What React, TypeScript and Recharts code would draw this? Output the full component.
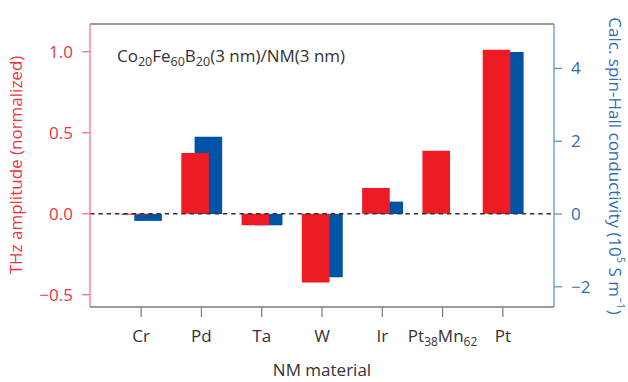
import React from 'react';
import { BarChart, Bar, XAxis, YAxis, ReferenceLine } from 'recharts';

const categories = ['Cr', 'Pd', 'Ta', 'W', 'Ir', 'Pt38Mn62', 'Pt'];
const thzAmplitude = [-0.006, 0.375, -0.072, -0.424, 0.159, 0.389, 1.012];
const spinHallConductivity: (number | null)[] = [-0.19, 2.12, -0.31, -1.74, 0.34, null, 4.45];
const leftTicks = [-0.5, 0, 0.5, 1.0];
const rightTicks = [-2, 0, 2, 4];
const leftDomain = [-0.576, 1.171];
const rightDomain = [-2.555, 5.22];

const data = categories.map((name, i) => ({
  name,
  thz: thzAmplitude[i],
  shc: spinHallConductivity[i],
}));

const RED = '#ED1C24';
const RED_TEXT = '#EF3441';
const RED_AXIS = '#F27884';
const BLUE = '#0054A6';
const BLUE_TEXT = '#2F6DB5';
const BLUE_AXIS = '#5F93D6';
const GRAY = '#7A7A7A';
const TEXT = '#333333';
const FONT = '"Open Sans", "Noto Sans", sans-serif';

const minus = (s: string) => s.replace('-', '\u2212');

function chemSpans(str: string, subSize: number, shift: number) {
  const parts = str.match(/[A-Za-z]+|\d+/g) || [];
  let sub = false;
  return parts.map((p, i) => {
    const isNum = /^\d+$/.test(p);
    let dy: number | undefined = undefined;
    if (isNum && !sub) { dy = shift; sub = true; }
    else if (!isNum && sub) { dy = -shift; sub = false; }
    return (
      <tspan key={i} dy={dy} fontSize={isNum ? subSize : undefined}>{p}</tspan>
    );
  });
}

const XTick = (props: any) => {
  const { x, y, payload } = props;
  return (
    <text x={x} y={y + 23} textAnchor="middle" fill={TEXT} fontSize={17} fontFamily={FONT}>
      {chemSpans(String(payload.value), 12, 4)}
    </text>
  );
};

const TitleLabel = () => (
  <text x={117} y={62} fill={TEXT} fontSize={17} fontFamily={FONT}>
    <tspan>Co</tspan>
    <tspan dy={4} fontSize={12.5}>20</tspan>
    <tspan dy={-4}>Fe</tspan>
    <tspan dy={4} fontSize={12.5}>60</tspan>
    <tspan dy={-4}>B</tspan>
    <tspan dy={4} fontSize={12.5}>20</tspan>
    <tspan dy={-4}>(3 nm)/NM(3 nm)</tspan>
  </text>
);

const XLabel = () => (
  <text x={322} y={376} textAnchor="middle" fill={TEXT} fontSize={17} fontFamily={FONT}>
    NM material
  </text>
);

const LeftLabel = () => (
  <text
    transform="translate(15,165) rotate(-90)"
    textAnchor="middle"
    dominantBaseline="central"
    fill={RED_TEXT}
    fontSize={17}
    fontFamily={FONT}
  >
    THz amplitude (normalized)
  </text>
);

const RightLabel = () => (
  <text
    transform="translate(616,166) rotate(90)"
    textAnchor="middle"
    dominantBaseline="central"
    fill={BLUE_TEXT}
    fontSize={17}
    fontFamily={FONT}
  >
    <tspan>Calc. spin-Hall conductivity (10</tspan>
    <tspan dy={-6} fontSize={11}>5</tspan>
    <tspan dy={6}> S m</tspan>
    <tspan dy={-6} fontSize={11}>{'\u22121'}</tspan>
    <tspan dy={6}>)</tspan>
  </text>
);

export default function App() {
  return (
    <div style={{ position: 'absolute', left: 0, top: 0, background: '#fff' }}>
      <BarChart
        width={628}
        height={382}
        data={data}
        margin={{ top: 24, right: 0, bottom: 0, left: 0 }}
      >
        <XAxis
          xAxisId="main"
          dataKey="name"
          padding={{ left: 21, right: 21 }}
          height={75}
          tickSize={10}
          tick={<XTick />}
          axisLine={{ stroke: GRAY, strokeWidth: 1.4 }}
          tickLine={{ stroke: GRAY, strokeWidth: 1.2 }}
          interval={0}
          label={<XLabel />}
        />
        <XAxis xAxisId="red" dataKey="name" hide height={0} padding={{ left: 15, right: 27 }} />
        <XAxis xAxisId="blue" dataKey="name" hide height={0} padding={{ left: 28.3, right: 13.7 }} />
        <YAxis
          yAxisId="l"
          width={90}
          domain={leftDomain}
          ticks={leftTicks}
          allowDataOverflow
          tickFormatter={(v: number) => minus(v.toFixed(1))}
          tickSize={8}
          tickMargin={9}
          tick={{ fill: RED_TEXT, fontSize: 17, fontFamily: FONT }}
          axisLine={{ stroke: RED_AXIS, strokeWidth: 1.3 }}
          tickLine={{ stroke: RED_AXIS, strokeWidth: 1.3 }}
          label={<LeftLabel />}
        />
        <YAxis
          yAxisId="r"
          orientation="right"
          width={74}
          domain={rightDomain}
          ticks={rightTicks}
          allowDataOverflow
          tickFormatter={(v: number) => minus(String(v))}
          tickSize={8}
          tickMargin={9}
          tick={{ fill: BLUE_TEXT, fontSize: 17, fontFamily: FONT }}
          axisLine={{ stroke: BLUE_AXIS, strokeWidth: 1.3 }}
          tickLine={{ stroke: BLUE_AXIS, strokeWidth: 1.3 }}
          label={<RightLabel />}
        />
        <ReferenceLine
          yAxisId="l"
          xAxisId="main"
          y={leftDomain[1]}
          stroke={GRAY}
          strokeWidth={1.4}
          ifOverflow="visible"
          label={<TitleLabel />}
        />
        <Bar
          xAxisId="blue"
          yAxisId="r"
          dataKey="shc"
          fill={BLUE}
          barSize={27.6}
          isAnimationActive={false}
        />
        <Bar
          xAxisId="red"
          yAxisId="l"
          dataKey="thz"
          fill={RED}
          barSize={27.6}
          isAnimationActive={false}
        />
        <ReferenceLine
          yAxisId="l"
          xAxisId="main"
          y={0}
          stroke="#333"
          strokeWidth={1.6}
          strokeDasharray="4.5 3.8"
        />
      </BarChart>
    </div>
  );
}
